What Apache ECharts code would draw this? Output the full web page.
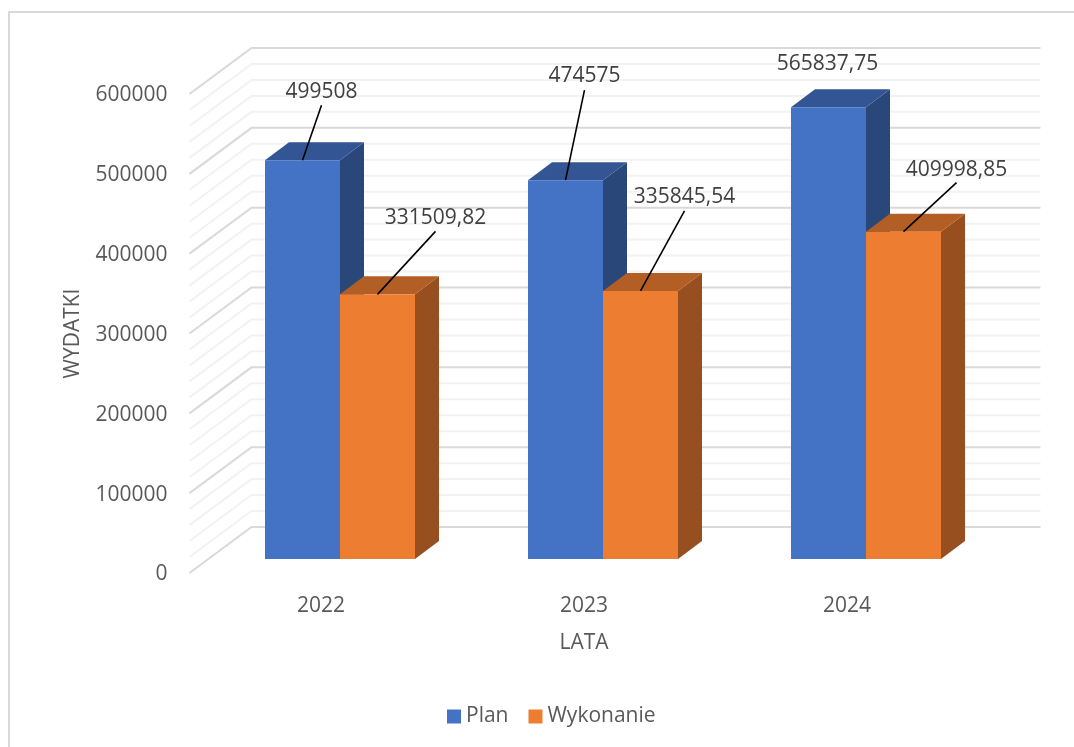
<!DOCTYPE html>
<html><head><meta charset="utf-8">
<style>html,body{margin:0;padding:0;background:#fff}#c{width:1074px;height:747px}</style>
<script src="https://cdn.jsdelivr.net/npm/echarts@6/dist/echarts.min.js"></script>
</head><body><div id="c"></div>
<script>
const categories = ['2022', '2023', '2024'];
const planValues = [499508, 474575, 565837.75];
const wykonanieValues = [331509.82, 335845.54, 409998.85];
const gridValues = [0,20000,40000,60000,80000,100000,120000,140000,160000,180000,200000,220000,240000,260000,280000,300000,320000,340000,360000,380000,400000,420000,440000,460000,480000,500000,520000,540000,560000,580000,600000];
const majorStep = 100000;

// layout (pixels): text centre and leader end, relative to bar's front-top centre
const planLabelOffsets = [[19,-68],[19,-104],[-1,-43]];
const planLeaderEnds = [[19,-55],[19,-90],null];
const wykLabelOffsets = [[58,-76],[44,-94],[53,-62]];
const wykLeaderEnds = [[58,-63],[44,-80],[53,-49]];

const FONT = '"Open Sans"';
const TXT = '#595959';
const chart = echarts.init(document.getElementById('c'), null, {renderer:'canvas'});

const wall = {dx:62, dy:-46, len:789};
const bar = {fx:19, fy:-14, dx:24, dy:-18, w:75};

function barRender(side, faces, labelOffsets, leaderEnds) {
  return function (params, api) {
    const i = api.value(0), v = api.value(1);
    const p0 = api.coord([i, 0]), p1 = api.coord([i, v]);
    const cx = p0[0] + bar.fx + side * bar.w / 2;
    const x0 = cx - bar.w / 2, x1 = cx + bar.w / 2;
    const yb = p0[1] + bar.fy, yt = p1[1] + bar.fy;
    const ddx = bar.dx, ddy = bar.dy;
    const ch = [
      {type:'polygon', shape:{points:[[x1,yt],[x1+ddx,yt+ddy],[x1+ddx,yb+ddy],[x1,yb]]}, style:{fill:faces.side}},
      {type:'polygon', shape:{points:[[x0,yt],[x0+ddx,yt+ddy],[x1+ddx,yt+ddy],[x1,yt]]}, style:{fill:faces.top}},
      {type:'rect', shape:{x:x0,y:yt,width:bar.w,height:yb-yt}, style:{fill:faces.front}}
    ];
    const end = leaderEnds[params.dataIndex], off = labelOffsets[params.dataIndex];
    if (end) ch.push({type:'line', shape:{x1:cx,y1:yt,x2:cx+end[0],y2:yt+end[1]}, style:{stroke:'#000',lineWidth:1.6}, z2:20});
    ch.push({type:'text', x:cx+off[0], y:yt+off[1], z2:21,
      style:{text:String(v).replace('.',','), fill:'#404040', font:'21px '+FONT, align:'center', verticalAlign:'middle'}});
    return {type:'group', children:ch};
  };
}

chart.setOption({
  animation:false,
  backgroundColor:'#fff',
  graphic:[{type:'rect', z:-10, silent:true, shape:{x:9,y:12,width:1200,height:900}, style:{fill:'none',stroke:'#d9d9d9',lineWidth:2}}],
  grid:{left:189.5, top:94, width:789, height:479, containLabel:false},
  legend:{data:['Plan','Wykonanie'], left:442, top:701, itemWidth:14, itemHeight:14, itemGap:20, icon:'rect',
    textStyle:{color:TXT, fontFamily:FONT, fontSize:21}},
  xAxis:{type:'category', data:categories, name:'LATA', nameLocation:'middle', nameGap:60,
    nameTextStyle:{color:TXT, fontFamily:FONT, fontSize:21},
    axisLine:{show:false}, axisTick:{show:false}, splitLine:{show:false},
    axisLabel:{color:TXT, fontFamily:FONT, fontSize:21, margin:23}},
  yAxis:{type:'value', min:0, max:600000, interval:100000, name:'WYDATKI', nameLocation:'middle', nameGap:106,
    nameTextStyle:{color:TXT, fontFamily:FONT, fontSize:21},
    axisLine:{show:false}, axisTick:{show:false}, splitLine:{show:false},
    axisLabel:{color:TXT, fontFamily:FONT, fontSize:21, margin:22, verticalAlign:'top', lineHeight:3, formatter:function(v){return String(v);}}},
  series:[
    {type:'custom', name:'walls', silent:true, z:1, encode:{x:0,y:1},
     data:gridValues.map(v=>[0,v]),
     renderItem:function(params,api){
       const v=api.value(1), y=api.coord([0,v])[1], x=params.coordSys.x;
       const major=v%majorStep===0;
       return {type:'polyline', shape:{points:[[x,y],[x+wall.dx,y+wall.dy],[x+wall.dx+wall.len,y+wall.dy]]},
         style:{fill:'none',stroke:major?'#d9d9d9':'#f2f2f2',lineWidth:2}};
     }},
    {type:'custom', name:'Plan', z:3, itemStyle:{color:'#4472C4'}, encode:{x:0,y:1},
     data:planValues.map((v,i)=>[i,v]),
     renderItem:barRender(-1,{front:'#4472C4',top:'#335593',side:'#2A4779'},planLabelOffsets,planLeaderEnds)},
    {type:'custom', name:'Wykonanie', z:4, itemStyle:{color:'#ED7D31'}, encode:{x:0,y:1},
     data:wykonanieValues.map((v,i)=>[i,v]),
     renderItem:barRender(1,{front:'#ED7D31',top:'#B25E25',side:'#974F1F'},wykLabelOffsets,wykLeaderEnds)}
  ]
});
</script></body></html>
